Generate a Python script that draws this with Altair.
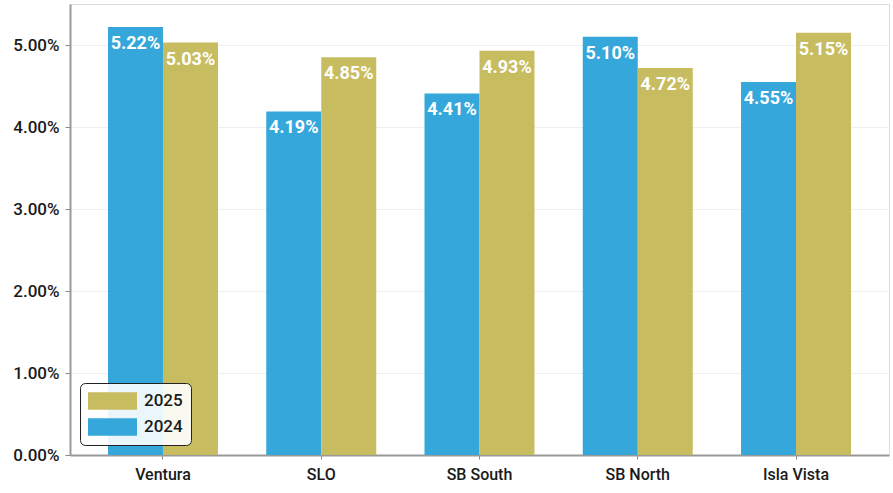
import altair as alt
import pandas as pd

regions = ["Ventura", "SLO", "SB South", "SB North", "Isla Vista"]
rate_2024 = [5.22, 4.19, 4.41, 5.10, 4.55]
rate_2025 = [5.03, 4.85, 4.93, 4.72, 5.15]
years = ["2024", "2025"]
y_ticks = [0, 1, 2, 3, 4, 5]

rows = []
for i, r in enumerate(regions):
    rows.append({"region": r, "year": "2024", "rate": rate_2024[i]})
    rows.append({"region": r, "year": "2025", "rate": rate_2025[i]})
df = pd.DataFrame(rows)

BLUE = "#35A7DA"
GOLD = "#C8BC60"
FONT = "Roboto, sans-serif"

x = alt.X("region:N", sort=regions, title=None,
          scale=alt.Scale(paddingInner=0.305, paddingOuter=0.24),
          axis=alt.Axis(labelAngle=0, labelFont=FONT, labelFontSize=16,
                        labelFontWeight=500,
                        labelColor="#1a1a1a", labelPadding=7,
                        tickColor="#888", tickSize=4, domainColor="#999",
                        domainWidth=2, grid=False))
xo = alt.XOffset("year:N", sort=years, scale=alt.Scale(paddingInner=0, paddingOuter=0))
y = alt.Y("rate:Q", title=None,
          scale=alt.Scale(domain=[0, 5.5], nice=False),
          axis=alt.Axis(values=y_ticks, labelExpr="format(datum.value, '.2f') + '%'",
                        labelFont=FONT, labelFontSize=17, labelFontWeight=500,
                        labelColor="#1a1a1a",
                        labelPadding=6, tickColor="#888", tickSize=5,
                        domainColor="#999", domainWidth=2,
                        grid=True, gridColor="#efefef", gridWidth=1))
color = alt.Color("year:N",
                  scale=alt.Scale(domain=["2025", "2024"], range=[GOLD, BLUE]),
                  legend=alt.Legend(title=None, orient="none", legendX=10, legendY=379,
                                    symbolType="M-1,-0.36L1,-0.36L1,0.36L-1,0.36Z",
                                    symbolSize=2401, symbolStrokeWidth=0,
                                    clipHeight=20, rowPadding=6,
                                    labelFont=FONT, labelFontSize=17, labelFontWeight=500,
                                    labelColor="#1a1a1a", labelOffset=7,
                                    padding=8, fillColor="rgba(255,255,255,0.9)",
                                    strokeColor="#222", cornerRadius=5))

bars = alt.Chart(df).mark_bar().encode(x=x, xOffset=xo, y=y, color=color)
labels = alt.Chart(df).mark_text(baseline="top", dy=8, color="white",
                                 font=FONT, fontSize=18, fontWeight="bold").encode(
    x=x, xOffset=xo, y=y, text=alt.Text("label:N")
).transform_calculate(label="format(datum.rate, '.2f') + '%'")

chart = alt.layer(bars, labels).properties(
    width=819, height=451,
    autosize=alt.AutoSizeParams(type="none"),
    padding={"left": 70, "top": 4, "right": 4, "bottom": 38},
).configure_view(stroke="#aaa", strokeWidth=2).configure(background="white")

chart.save("out.html", embed_options={"renderer": "svg", "actions": False})
